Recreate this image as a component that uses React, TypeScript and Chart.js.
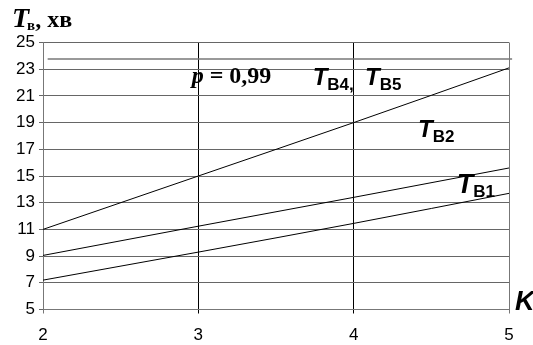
import React, { useEffect, useRef } from "react";
import { Chart, registerables } from "chart.js";

Chart.register(...registerables);

// ---- data ----
const K_VALUES = [2, 3, 4, 5];
const T_B1 = [7.2, 9.3, 11.45, 13.7];
const T_B2 = [9.05, 11.24, 13.4, 15.6];
const T_B45 = [11, 15, 19, 23.1];
const REF_LINE_X = [2.03, 5.02];
const REF_LINE_Y = [23.77, 23.77];
const Y_TICKS = [5, 7, 9, 11, 13, 15, 17, 19, 21, 23, 25];
const X_TICKS = [2, 3, 4, 5];

const SANS = "'Liberation Sans', Arial, sans-serif";
const SERIF = "'Liberation Serif', 'Times New Roman', serif";

const toPts = (xs: number[], ys: number[]) => xs.map((x, i) => ({ x, y: ys[i] }));

function drawTSub(
  ctx: CanvasRenderingContext2D,
  x: number,
  base: number,
  sub: string,
  tSize: number,
  subSize: number,
  subDrop: number
) {
  ctx.font = `italic bold ${tSize}px ${SANS}`;
  ctx.fillText("T", x, base);
  const w = ctx.measureText("T").width;
  ctx.font = `bold ${subSize}px ${SANS}`;
  ctx.fillText(sub, x + w, base + subDrop);
}

const labelsPlugin = {
  id: "labelsPlugin",
  afterDraw(chart: any) {
    const { ctx, scales } = chart;
    const xs = scales.x;
    const ys = scales.y;
    ctx.save();
    ctx.fillStyle = "#000";
    ctx.textAlign = "left";
    ctx.textBaseline = "alphabetic";

    // p = 0,99
    const px = xs.getPixelForValue(2.957);
    const py = ys.getPixelForValue(22.0);
    ctx.font = `italic bold 24px ${SERIF}`;
    ctx.fillText("p", px, py);
    let w = ctx.measureText("p").width;
    ctx.font = `bold 24px ${SERIF}`;
    ctx.fillText(" = 0,99", px + w, py);

    // T_B4, T_B5
    drawTSub(ctx, xs.getPixelForValue(3.736), ys.getPixelForValue(21.83), "B4,", 24, 17, 5);
    drawTSub(ctx, xs.getPixelForValue(4.073), ys.getPixelForValue(21.83), "B5", 24, 17, 5);
    // T_B2
    drawTSub(ctx, xs.getPixelForValue(4.414), ys.getPixelForValue(17.95), "B2", 24, 17, 5);
    // T_B1
    drawTSub(ctx, xs.getPixelForValue(4.663), ys.getPixelForValue(13.72), "B1", 27, 17, 4);

    // axis titles
    ctx.font = `italic bold 27px ${SANS}`;
    ctx.fillText("K", xs.right + 6, ys.bottom);

    ctx.font = `italic bold 28px ${SERIF}`;
    ctx.fillText("T", 12, 27);
    w = ctx.measureText("T").width;
    ctx.font = `bold 15px ${SERIF}`;
    ctx.fillText("в", 12 + w - 2, 30);
    const w2 = ctx.measureText("в").width;
    ctx.font = `bold 24px ${SERIF}`;
    ctx.fillText(", хв", 12 + w - 2 + w2, 27);
    ctx.restore();
  },
};

export default function App() {
  const ref = useRef<HTMLCanvasElement | null>(null);

  useEffect(() => {
    if (!ref.current) return;
    const line = (data: number[]) => ({
      data: toPts(K_VALUES, data),
      borderColor: "#000",
      borderWidth: 1,
      pointRadius: 0,
      fill: false,
      cubicInterpolationMode: "monotone" as const,
    });
    const chart = new Chart(ref.current, {
      type: "line",
      data: {
        datasets: [
          line(T_B1),
          line(T_B2),
          line(T_B45),
          {
            data: toPts(REF_LINE_X, REF_LINE_Y),
            borderColor: "#777",
            borderWidth: 1.5,
            pointRadius: 0,
            fill: false,
            clip: false as any,
          },
        ],
      },
      options: {
        animation: false,
        responsive: false,
        layout: { padding: { top: 42.5, right: 24, left: 0, bottom: 0 } },
        plugins: { legend: { display: false }, tooltip: { enabled: false } },
        scales: {
          x: {
            type: "linear",
            min: 2,
            max: 5,
            afterBuildTicks: (s: any) => {
              s.ticks = X_TICKS.map((v) => ({ value: v }));
            },
            afterFit: (s: any) => {
              s.height = 35.5;
            },
            grid: {
              color: (c: any) =>
                c.tick && (c.tick.value === 3 || c.tick.value === 4) ? "#000" : "#777",
              lineWidth: 1,
              tickLength: 4,
            },
            border: { color: "#777", width: 1 },
            ticks: {
              color: "#000",
              font: { family: SANS, size: 17 },
              padding: 12,
              maxRotation: 0,
            },
          },
          y: {
            type: "linear",
            min: 5,
            max: 25,
            afterBuildTicks: (s: any) => {
              s.ticks = Y_TICKS.map((v) => ({ value: v }));
            },
            afterFit: (s: any) => {
              s.width = 43;
            },
            grid: { color: "#666", lineWidth: 1, tickLength: 4 },
            border: { color: "#777", width: 1 },
            ticks: {
              color: "#000",
              font: { family: SANS, size: 17 },
              padding: 4,
            },
          },
        },
      },
      plugins: [labelsPlugin],
    });
    return () => chart.destroy();
  }, []);

  return (
    <div style={{ position: "fixed", left: 0, top: 0, width: 533, height: 345, background: "#fff" }}>
      <canvas ref={ref} width={533} height={345} style={{ display: "block" }} />
    </div>
  );
}
